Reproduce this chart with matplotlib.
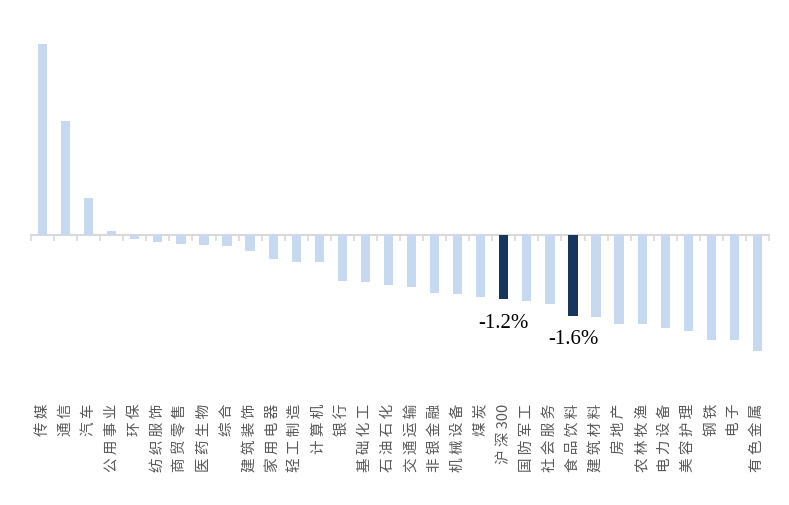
import matplotlib
matplotlib.use("Agg")
import matplotlib.pyplot as plt
import matplotlib.transforms as mtransforms

categories = ["传媒", "通信", "汽车", "公用事业", "环保", "纺织服饰", "商贸零售", "医药生物",
              "综合", "建筑装饰", "家用电器", "轻工制造", "计算机", "银行", "基础化工", "石油石化",
              "交通运输", "非银金融", "机械设备", "煤炭", "沪深300", "国防军工", "社会服务", "食品饮料",
              "建筑材料", "房地产", "农林牧渔", "电力设备", "美容护理", "钢铁", "电子", "有色金属"]
values = [3.69, 2.20, 0.72, 0.08, -0.08, -0.14, -0.17, -0.19,
          -0.21, -0.31, -0.46, -0.52, -0.52, -0.89, -0.91, -0.97,
          -1.00, -1.12, -1.15, -1.19, -1.24, -1.27, -1.33, -1.56,
          -1.58, -1.72, -1.73, -1.79, -1.85, -2.03, -2.04, -2.24]
highlight = {"沪深300": "-1.2%", "食品饮料": "-1.6%"}

light = "#C6D9F0"
dark = "#17365D"

fig = plt.figure(figsize=(7.89, 5.06), dpi=100)
W, H = 789, 506
top_px, bot_px = 30, 360
left_px, right_px = 31, 769
ax = fig.add_axes([left_px / W, 1 - bot_px / H, (right_px - left_px) / W, (bot_px - top_px) / H])

scale = 51.7  # px per 1%
zero_px = 236
ax.set_ylim(-(bot_px - zero_px) / scale, (zero_px - top_px) / scale)
ax.set_xlim(-0.5, len(categories) - 0.5)

x = list(range(len(categories)))
colors = [dark if c in highlight else light for c in categories]
ax.bar(x, values, width=0.4, color=colors, zorder=3)

for i, c in enumerate(categories):
    if c in highlight:
        ax.annotate(highlight[c], xy=(i, values[i]), xytext=(0, -16.5), textcoords="offset points",
                    ha="center", va="center", fontsize=15, family="Liberation Serif", color="black")

for s in ["top", "right", "left"]:
    ax.spines[s].set_visible(False)
ax.spines["bottom"].set_position(("data", 0))
ax.spines["bottom"].set_color("#D9D9D9")
ax.spines["bottom"].set_linewidth(1.5)
ax.spines["bottom"].set_zorder(2)
ax.set_yticks([])
ax.set_xticks([i - 0.5 for i in range(len(categories) + 1)])
ax.set_xticklabels([])
ax.tick_params(axis="x", direction="out", length=4, width=1.2, color="#D9D9D9")

trans = mtransforms.blended_transform_factory(ax.transData, fig.transFigure)
label_top = 1 - 404 / H
for i, c in enumerate(categories):
    if c.endswith("300"):
        txt = " ".join(list(c[:-3])) + " " + c[-3:]
    else:
        txt = " ".join(list(c))
    ax.text(i, label_top, txt, transform=trans, rotation=90, ha="center", va="top",
            fontsize=10.5, family=["Noto Sans CJK SC", "DejaVu Sans"], color="#595959")

fig.savefig("out.png", dpi=100)
